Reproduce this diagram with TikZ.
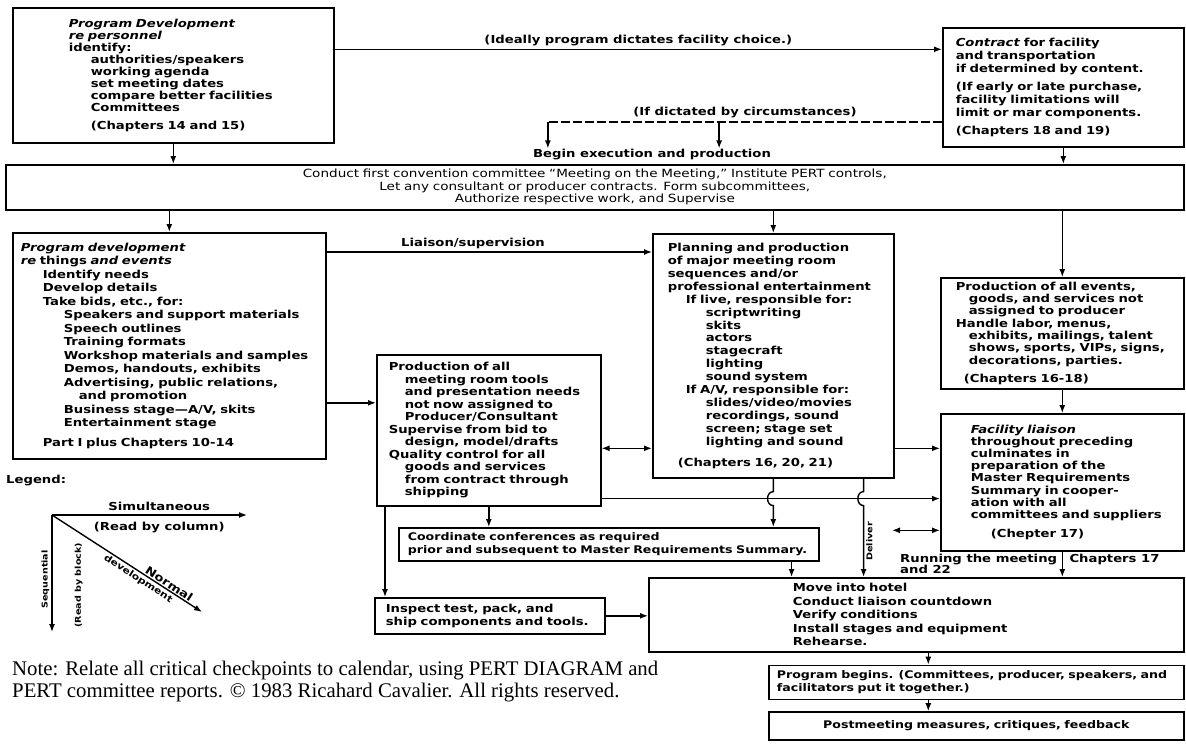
\documentclass[tikz,border=0pt]{standalone}
\usepackage{fontspec}
\setmainfont{DejaVu Sans}[FakeStretch=1.2]
\newfontfamily\notefont{Liberation Serif}
\usetikzlibrary{arrows.meta, positioning}

\begin{document}
\begin{tikzpicture}[x=1pt, y=-1pt,
  box/.style={draw, line width=1.6pt, anchor=north west, align=left,
    inner xsep=0pt, inner ysep=0pt, font=\fontsize{11}{13}\selectfont\bfseries},
  arr/.style={-{Latex[length=8pt, width=6pt]}, line width=1.4pt},
  darr/.style={{Latex[length=8pt, width=6pt]}-{Latex[length=8pt, width=6pt]}, line width=1.4pt},
  lbl/.style={font=\fontsize{11}{12}\selectfont\bfseries, inner sep=1pt},
  small/.style={font=\fontsize{8}{9}\selectfont\bfseries, inner sep=2pt}
]
\path[fill=white, use as bounding box] (0,0) rectangle (1186,755);

% Boxes
\node[box, text width=321pt, minimum height=135pt, font=\fontsize{11}{12}\selectfont\bfseries] (dev) at (12,7) {\leftskip=56pt
\textit{Program Development}\\
\textit{re personnel}\\
identify:\\
\hspace*{22pt}authorities/speakers\\
\hspace*{22pt}working agenda\\
\hspace*{22pt}set meeting dates\\
\hspace*{22pt}compare better facilities\\
\hspace*{22pt}Committees\\[6pt]
\hspace*{22pt}(Chapters 14 and 15)\par};

\node[box, text width=241pt, minimum height=119pt] (contract) at (942,27) {\leftskip=13pt
\textit{Contract} for facility\\
and transportation\\
if determined by content.\\[5pt]
(If early or late purchase,\\
facility limitations will\\
limit or mar components.\\[5pt]
(Chapters 18 and 19)\par};

\node[box, text width=1178pt, minimum height=45pt, align=center, font=\fontsize{11.3}{12.5}\selectfont] (bar) at (5,164) {Conduct first convention committee “Meeting on the Meeting,” Institute PERT controls,\\
Let any consultant or producer contracts. Form subcommittees,\\
Authorize respective work, and Supervise};

\node[box, text width=313pt, minimum height=226pt, font=\fontsize{11}{13.5}\selectfont\bfseries] (things) at (12,232) {\leftskip=8pt
\textit{Program development}\\
\textit{re} things \textit{and events}\\
\hspace*{22pt}Identify needs\\
\hspace*{22pt}Develop details\\
\hspace*{22pt}Take bids, etc., for:\\
\hspace*{43pt}Speakers and support materials\\
\hspace*{43pt}Speech outlines\\
\hspace*{43pt}Training formats\\
\hspace*{43pt}Workshop materials and samples\\
\hspace*{43pt}Demos, handouts, exhibits\\
\hspace*{43pt}Advertising, public relations,\\
\hspace*{58pt}and promotion\\
\hspace*{43pt}Business stage—A/V, skits\\
\hspace*{43pt}Entertainment stage\\[6pt]
\hspace*{22pt}Part I plus Chapters 10-14\par};

\node[box, text width=241pt, minimum height=244pt, font=\fontsize{11}{12.9}\selectfont\bfseries] (plan) at (652,233) {\leftskip=15pt
Planning and production\\
of major meeting room\\
sequences and/or\\
professional entertainment\\
\hspace*{18pt}If live, responsible for:\\
\hspace*{38pt}scriptwriting\\
\hspace*{38pt}skits\\
\hspace*{38pt}actors\\
\hspace*{38pt}stagecraft\\
\hspace*{38pt}lighting\\
\hspace*{38pt}sound system\\
\hspace*{18pt}If A/V, responsible for:\\
\hspace*{38pt}slides/video/movies\\
\hspace*{38pt}recordings, sound\\
\hspace*{38pt}screen; stage set\\
\hspace*{38pt}lighting and sound\\[8pt]
\hspace*{10pt}(Chapters 16, 20, 21)\par};

\node[box, text width=243pt, minimum height=111pt, font=\fontsize{11}{12.3}\selectfont\bfseries] (events) at (940,277) {\leftskip=15pt
Production of all events,\\
\hspace*{13pt}goods, and services not\\
\hspace*{13pt}assigned to producer\\
Handle labor, menus,\\
\hspace*{13pt}exhibits, mailings, talent\\
\hspace*{13pt}shows, sports, VIPs, signs,\\
\hspace*{13pt}decorations, parties.\\[6pt]
\hspace*{8pt}(Chapters 16-18)\par};

\node[box, text width=243pt, minimum height=137pt, font=\fontsize{11}{12.2}\selectfont\bfseries] (liaison) at (940,413) {\leftskip=30pt
\textit{Facility liaison}\\
throughout preceding\\
culminates in\\
preparation of the\\
Master Requirements\\
Summary in cooper-\\
ation with all\\
committees and suppliers\\[7pt]
\hspace*{20pt}(Chepter 17)\par};

\node[box, text width=224pt, minimum height=151pt, font=\fontsize{11}{12.5}\selectfont\bfseries] (tools) at (376,354) {\leftskip=12pt
Production of all\\
\hspace*{16pt}meeting room tools\\
\hspace*{16pt}and presentation needs\\
\hspace*{16pt}not now assigned to\\
\hspace*{16pt}Producer/Consultant\\
Supervise from bid to\\
\hspace*{16pt}design, model/drafts\\
Quality control for all\\
\hspace*{16pt}goods and services\\
\hspace*{16pt}from contract through\\
\hspace*{16pt}shipping\par};

\node[box, text width=420pt, minimum height=33pt, font=\fontsize{10.5}{12.5}\selectfont\bfseries] (coord) at (398,527) {\leftskip=9pt
Coordinate conferences as required\\
prior and subsequent to Master Requirements Summary.\par};

\node[box, text width=230pt, minimum height=36pt] (inspect) at (374,597) {\leftskip=11pt
Inspect test, pack, and\\
ship components and tools.\par};

\node[box, text width=535pt, minimum height=74pt, font=\fontsize{11}{13.5}\selectfont\bfseries] (move) at (648,577) {\leftskip=144pt
Move into hotel\\
Conduct liaison countdown\\
Verify conditions\\
Install stages and equipment\\
Rehearse.\par};

\node[box, text width=415pt, minimum height=34pt, font=\fontsize{10.5}{13}\selectfont\bfseries,
  below=12pt of move.south east, anchor=north east] (begins) {\leftskip=8pt
Program begins. (Committees, producer, speakers, and\\
facilitators put it together.)\par};

\node[box, text width=415pt, minimum height=28pt, align=center, font=\fontsize{10.5}{13}\selectfont\bfseries,
  below=11pt of begins] (post) {Postmeeting measures, critiques, feedback};

% Top connectors
\draw[arr] ([yshift=26pt]dev.east) -- ([yshift=26pt]dev.east -| contract.west)
  node[midway, above=2pt, lbl] {(Ideally program dictates facility choice.)};
\coordinate (circ) at ([yshift=-95pt]contract.north west);
\node[lbl] (begin) at (652,155) {Begin execution and production};
\coordinate (b1) at ([xshift=16pt]begin.north west);
\coordinate (b2) at ([xshift=-53pt]begin.north east);
\draw[line width=1.4pt, dash pattern=on 9pt off 3pt] (circ) -- (circ -| b1)
  node[midway, above=2pt, lbl] {(If dictated by circumstances)};
\draw[arr] (circ -| b1) -- (b1);
\draw[arr] (circ -| b2) -- (b2);
\draw[arr] (dev.south) -- (dev.south |- bar.north);
\draw[arr] (contract.south) -- (contract.south |- bar.north);

% From the bar
\draw[arr] (things.north |- bar.south) -- (things.north);
\draw[arr] (plan.north |- bar.south) -- (plan.north);
\draw[arr] (events.north |- bar.south) -- (events.north);

% Middle connectors
\draw[arr] ([yshift=-20pt]things.north east) -- ([yshift=-20pt]things.north east -| plan.west)
  node[pos=0.45, above=2pt, lbl] {Liaison/supervision};
\draw[arr] ([yshift=-57pt]things.east) -- ([yshift=-57pt]things.east -| tools.west);
\draw[darr] ([yshift=-18pt]tools.east) -- ([yshift=-18pt]tools.east -| plan.west);
\draw[arr] ([yshift=-18pt]tools.east -| plan.east) -- ([yshift=-18pt]tools.east -| liaison.west);
\draw[arr] (events.south) -- (liaison.north);

% Crossing line and hops
\coordinate (cross) at ([yshift=8pt]tools.south east);
\draw[arr] (cross) -- (cross -| liaison.west);
\draw[arr] (plan.south) -- ([yshift=7pt]plan.south |- cross) to[out=180, in=180, looseness=1.4]
  ([yshift=-7pt]plan.south |- cross) -- (plan.south |- coord.north);
\coordinate (dv) at ([xshift=-31pt]plan.south east);
\draw[arr] (dv) -- ([yshift=7pt]dv |- cross) to[out=180, in=180, looseness=1.4]
  ([yshift=-7pt]dv |- cross) -- (dv |- move.north)
  node[midway, anchor=north, rotate=90, small] {Deliver};
\coordinate (dd) at ([xshift=-48pt, yshift=-48pt]liaison.west);
\draw[darr] (dd) -- (dd -| liaison.west);

% Lower connectors
\draw[arr] (tools.south) -- (tools.south |- coord.north);
\coordinate (ti) at ([xshift=9pt]tools.south west);
\draw[arr] (ti) -- (ti |- inspect.north);
\coordinate (cm) at ([xshift=-28pt]coord.south east);
\draw[arr] (cm) -- (cm |- move.north);
\draw[arr] (liaison.south) -- (liaison.south |- move.north);
\node[lbl, anchor=north east, align=left, font=\fontsize{11}{10.5}\selectfont\bfseries] (run)
  at ([xshift=-4pt, yshift=-1pt]liaison.south) {Running the meeting\\and 22};
\node[lbl, anchor=north west] (chap) at ([xshift=6pt, yshift=-1pt]liaison.south) {Chapters 17};
\draw[arr] (inspect.east) -- (inspect.east -| move.west);
\coordinate (mb) at ([xshift=12pt]move.south);
\draw[arr] (mb) -- (mb |- begins.north);
\draw[arr] (mb |- begins.south) -- (mb |- post.north);

% Legend
\node[lbl, anchor=west] (legend) at (5,481) {Legend:};
\coordinate (lo) at (52,515);
\coordinate (lsim) at (247,515);
\coordinate (lseq) at (52,632);
\coordinate (lnorm) at (202,612);
\draw[arr] (lo) -- (lsim)
  node[pos=0.55, above=3pt, lbl] {Simultaneous}
  node[pos=0.55, below=5pt, lbl] {(Read by column)};
\draw[arr] (lo) -- (lseq)
  node[pos=0.55, anchor=south, rotate=90, small] {Sequential}
  node[pos=0.6, anchor=north, xshift=20pt, rotate=90, small] {(Read by block)};
\draw[arr] (lo) -- (lnorm)
  node[pos=0.76, above, sloped, lbl] {Normal}
  node[pos=0.6, below, sloped, small, font=\fontsize{9}{10}\selectfont\bfseries] {development};

% Note
\node[anchor=north west, align=left, inner sep=0pt, font=\notefont\fontsize{20.8}{22}\selectfont] (note) at (12,661)
  {Note: Relate all critical checkpoints to calendar, using PERT DIAGRAM and\\
   PERT committee reports. © 1983 Ricahard Cavalier. All rights reserved.};
\end{tikzpicture}
\end{document}
